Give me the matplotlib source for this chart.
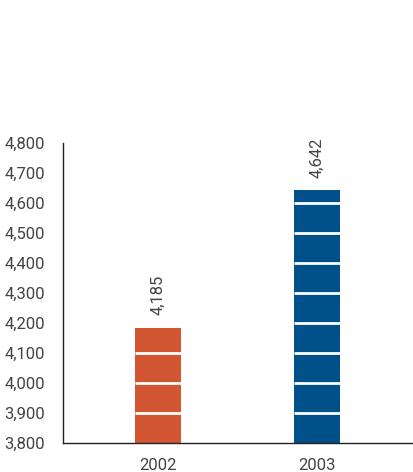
import matplotlib
matplotlib.use("Agg")
import matplotlib.pyplot as plt

years = ["2002", "2003"]
values = [4185, 4642]
colors = ["#D35632", "#00508A"]
y_ticks = [3800, 3900, 4000, 4100, 4200, 4300, 4400, 4500, 4600, 4700, 4800]

plt.rcParams["font.family"] = ["Roboto", "DejaVu Sans"]
plt.rcParams["font.weight"] = "normal"
text_color = "#444444"
font_size = 12

fig = plt.figure(figsize=(4.13, 4.72), dpi=100)
ax = fig.add_axes([63 / 413, 29 / 472, 350 / 413, 300 / 472])

x = list(range(len(years)))
width = 0.29
ax.bar(x, [v - y_ticks[0] for v in values], bottom=y_ticks[0], width=width,
       color=colors, zorder=2)

# white bands every 100 units inside each bar
for xi, v in zip(x, values):
    levels = [t for t in y_ticks[1:] if t < v]
    ax.hlines(levels, xi - width / 2, xi + width / 2, color="white", lw=2, zorder=3)
    ax.text(xi, v + 42, f"{v:,}", rotation=90, ha="center", va="bottom",
            fontsize=font_size, color=text_color)

ax.set_xlim(-0.597, 1.604)
ax.set_ylim(y_ticks[0], y_ticks[-1])
ax.set_yticks(y_ticks)
ax.set_yticklabels([f"{t:,}" for t in y_ticks])
ax.set_xticks(x)
ax.set_xticklabels(years)
ax.tick_params(axis="both", length=0, labelsize=font_size, labelcolor=text_color)
ax.tick_params(axis="y", pad=13)
ax.tick_params(axis="x", pad=11)

for side in ("top", "right"):
    ax.spines[side].set_visible(False)
for side in ("left", "bottom"):
    ax.spines[side].set_color("#222222")
    ax.spines[side].set_linewidth(1.0)

fig.savefig("out.png", dpi=100)
